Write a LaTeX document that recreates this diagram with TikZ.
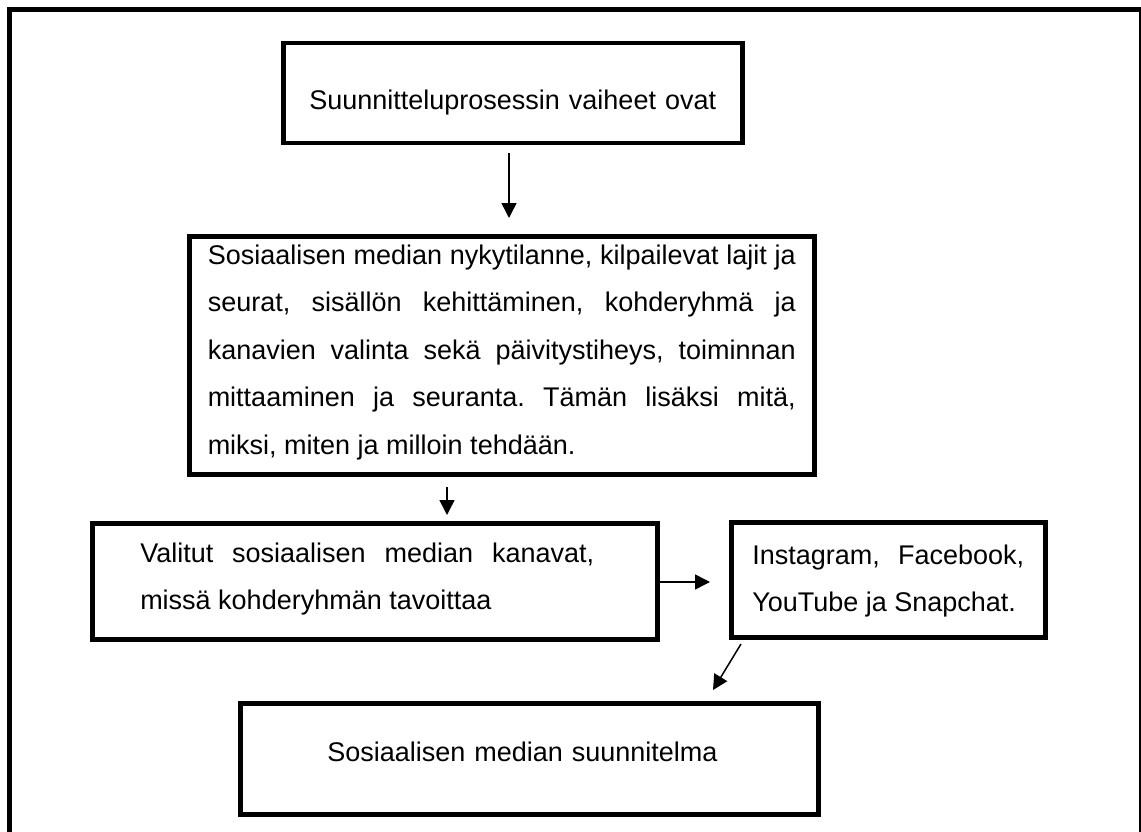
\documentclass[tikz,border=0pt]{standalone}
\usepackage{fontspec}
\setmainfont{Liberation Sans}
\usetikzlibrary{positioning,arrows.meta}
\hyphenpenalty=10000
\frenchspacing

\begin{document}
\begin{tikzpicture}[
    x=1pt, y=-1pt,
    every node/.style={font=\fontsize{27}{47.5}\selectfont},
    stepbox/.style={rectangle, draw, line width=4.5pt, anchor=north west, inner ysep=0pt},
    arrow/.style={-{Triangle[length=15pt, width=15pt]}, line width=1.5pt},
]
\useasboundingbox (0,0) rectangle (1141,832);
\clip (0,0) rectangle (1141,832);

% Outer frame
\draw[line width=5pt] (9.5,9.5) rectangle (1141.5,870);

% Top: planning phases
\node[stepbox, inner xsep=0pt, text width=459pt, align=center, text height=66pt, text depth=34pt] (phases) at (281,41) {Suunnitteluprosessin vaiheet ovat};

% What the plan covers
\node[stepbox, inner xsep=18.5pt, text width=588pt, align=justify, text height=28pt, text depth=210pt] (content) at (187,234) {Sosiaalisen median nykytilanne, kilpailevat lajit ja\linebreak seurat, sisällön kehittäminen, kohderyhmä ja\linebreak kanavien valinta sekä päivitystiheys, toiminnan\linebreak mittaaminen ja seuranta. Tämän lisäksi mitä,\linebreak miksi, miten ja milloin tehdään.};

% Chosen channels
\node[stepbox, inner xsep=48pt, text width=469pt, align=justify, text height=39pt, text depth=77pt] (channels) at (90,521) {\rightskip=15pt Valitut sosiaalisen median kanavat,\linebreak missä kohderyhmän tavoittaa\par};
\node[stepbox, inner xsep=21pt, text width=272pt, align=justify, text height=42pt, text depth=73pt] (platforms) at (729,520) {Instagram, Facebook,\linebreak YouTube ja Snapchat.};

% Result
\node[stepbox, inner xsep=87pt, text width=404pt, align=left, text height=58pt, text depth=53pt] (plan) at (238,701) {Sosiaalisen median suunnitelma};

% Arrow ends
\coordinate (a1s) at (509,153);
\coordinate (a1e) at (509,218);
\coordinate (a2s) at (447,487);
\coordinate (a2e) at (447,515);
\coordinate (a3e) at (710,582);
\coordinate (a4s) at (741,644);
\coordinate (a4e) at (713,690);

% Arrows
\draw[arrow] (a1s) -- (a1e);
\draw[arrow] (a2s) -- (a2e);
\draw[arrow] (channels.east |- a3e) -- (a3e);
\draw[arrow] (a4s) -- (a4e);

\end{tikzpicture}
\end{document}
